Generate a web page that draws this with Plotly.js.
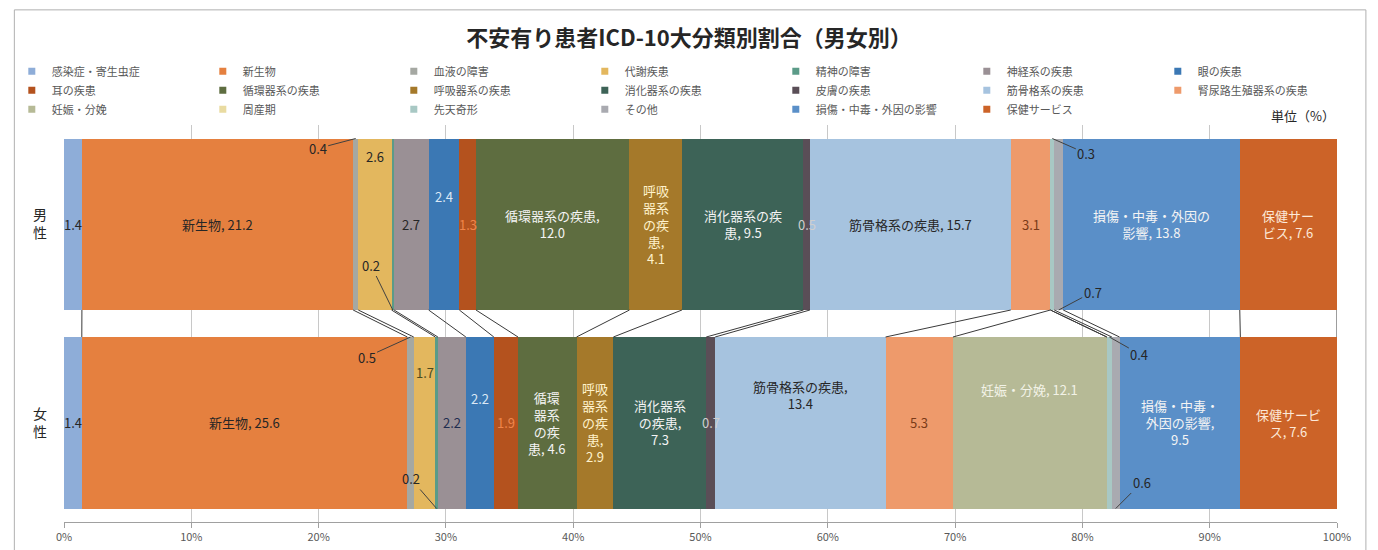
<!DOCTYPE html>
<html>
<head>
<meta charset="utf-8">
<script src="https://cdn.plot.ly/plotly-3.0.1.min.js"></script>
<style>html,body{margin:0;padding:0;background:#fff;}#chart{width:1378px;height:550px;}</style>
</head>
<body>
<div id="chart"></div>
<script>
// ---------- data ----------
const categories = ['感染症・寄生虫症','新生物','血液の障害','代謝疾患','精神の障害','神経系の疾患','眼の疾患',
  '耳の疾患','循環器系の疾患','呼吸器系の疾患','消化器系の疾患','皮膚の疾患','筋骨格系の疾患','腎尿路生殖器系の疾患',
  '妊娠・分娩','周産期','先天奇形','その他','損傷・中毒・外因の影響','保健サービス'];
const genders = ['男性','女性'];
const maleValues   = [1.4,21.2,0.4,2.6,0.2,2.7,2.4,1.3,12.0,4.1,9.5,0.5,15.7,3.1,0,0,0.3,0.7,13.8,7.6];
const femaleValues = [1.4,25.6,0.5,1.7,0.2,2.2,2.2,1.9,4.6,2.9,7.3,0.7,13.4,5.3,12.1,0,0.4,0.6,9.5,7.6];
const xTickValues = [0,10,20,30,40,50,60,70,80,90,100];
const xTickLabels = ['0%','10%','20%','30%','40%','50%','60%','70%','80%','90%','100%'];
const maleLabels = ['1.4','新生物, 21.2','0.4','2.6','0.2','2.7','2.4','1.3','循環器系の疾患,<br>12.0',
  '呼吸<br>器系<br>の疾<br>患,<br>4.1','消化器系の疾<br>患, 9.5','0.5','筋骨格系の疾患, 15.7','3.1','','','0.3','0.7',
  '損傷・中毒・外因の<br>影響, 13.8','保健サー<br>ビス, 7.6'];
const femaleLabels = ['1.4','新生物, 25.6','0.5','1.7','0.2','2.2','2.2','1.9','循環<br>器系<br>の疾<br>患, 4.6',
  '呼吸<br>器系<br>の疾<br>患,<br>2.9','消化器系<br>の疾患,<br>7.3','0.7','筋骨格系の疾患,<br>13.4','5.3','妊娠・分娩, 12.1','','0.4','0.6',
  '損傷・中毒・<br>外因の影響,<br>9.5','保健サービ<br>ス, 7.6'];

// ---------- styles ----------
const colors = ['#8eadd8','#e5803f','#a5a8a2','#e3b75e','#5b9b88','#9a9095','#3b78b4',
  '#b4521e','#5e6d40','#a5792a','#3d6357','#5a4e57','#a6c3df','#ee9a6b',
  '#b6ba96','#e9dba1','#a8c8c4','#a9aab0','#5a8fc8','#cc6328'];
const DARK = '#262626', WHITE = '#f4f4f4', PALEY = '#fff2cc';
const maleLabelStyle = [
  {c:DARK},{c:DARK},{c:DARK,edge:'top',ax:-38,ay:10},{c:DARK,dy:68},{c:DARK,edge:'bottom',ax:-22,ay:-45},
  {c:DARK},{c:'#dce8f6',dy:28},{c:'#f0854a'},{c:WHITE},{c:PALEY},{c:WHITE},{c:'#cfcfcf'},{c:DARK},{c:'#7a3a18'},
  {},{},{c:DARK,edge:'top',ax:34,ay:15},{c:DARK,edge:'bottom',ax:34,ay:-18},{c:WHITE},{c:'#fde9d9'}];
const femaleLabelStyle = [
  {c:DARK},{c:DARK},{c:DARK,edge:'top',ax:-44,ay:20},{c:'#4a4a20',dy:50},{c:DARK,edge:'bottom',ax:-26,ay:-30},
  {c:'#1f2d4f'},{c:'#dce8f6',dy:24},{c:'#f0854a'},{c:WHITE},{c:PALEY},{c:WHITE},{c:'#cfcfcf'},{c:DARK,dy:28},{c:'#7a3a18'},
  {c:'#f2f2e6',dy:33},{},{c:DARK,edge:'top',ax:30,ay:17},{c:DARK,edge:'bottom',ax:26,ay:-26},{c:WHITE},{c:'#fde9d9'}];

const FONT = '"Noto Sans CJK JP", "Noto Sans", sans-serif';
const BARGAP = 0.136;
const HW = (1 - BARGAP) / 2;

function cumNorm(vals){
  const tot = vals.reduce((a,b)=>a+b,0);
  let c = 0;
  return vals.map(v => { const s = c; c += v; return [s/tot*100, c/tot*100]; });
}
const cums = [maleValues, femaleValues].map(cumNorm);

const traces = categories.map((name,i) => ({
  type:'bar', orientation:'h', name:name, showlegend:false,
  y:[0,1], x:[maleValues[i], femaleValues[i]],
  marker:{color:colors[i], line:{width:0}},
  hoverinfo:'skip'
}));

// series lines between the two bars
const lx = [], ly = [];
categories.forEach((_,i) => {
  lx.push(cums[0][i][1], cums[1][i][1], null);
  ly.push(0 + HW, 1 - HW, null);
});
traces.push({type:'scatter', mode:'lines', x:lx, y:ly, showlegend:false, hoverinfo:'skip',
  line:{color:'#3a3a3a', width:1}});

// legend entries (small square swatches like the original)
categories.forEach((name,i) => {
  traces.push({type:'scatter', mode:'markers', name:name, x:[null], y:[null], showlegend:true,
    hoverinfo:'skip', marker:{symbol:'square', size:7, color:colors[i]}});
});

const annotations = [];
[maleLabels, femaleLabels].forEach((labels, gi) => {
  const styles = gi === 0 ? maleLabelStyle : femaleLabelStyle;
  labels.forEach((t,i) => {
    if(!t) return;
    const s = styles[i];
    const mid = (cums[gi][i][0] + cums[gi][i][1]) / 2;
    if(s.edge){
      annotations.push({x:mid, y: gi + (s.edge === 'top' ? -HW : HW), xref:'x', yref:'y', text:t,
        showarrow:true, arrowhead:0, arrowwidth:1, arrowcolor:'#404040', ax:s.ax, ay:s.ay, standoff:0,
        font:{size:13, color:s.c, family:FONT}});
    } else {
      annotations.push({x:mid, y:gi, xref:'x', yref:'y', text:t, showarrow:false,
        yshift:s.dy||0, font:{size:13, color:s.c, family:FONT}});
    }
  });
});
annotations.push({x:1, y:1.005, xref:'paper', yref:'paper', xanchor:'right', yanchor:'bottom', yshift:-4,
  text:'単位（%）', showarrow:false, font:{size:13, color:DARK, family:FONT}});

const layout = {
  width:1378, height:550,
  margin:{l:62, r:41, t:125, b:28},
  paper_bgcolor:'#fff', plot_bgcolor:'#fff',
  font:{family:FONT},
  title:{text:'<b>不安有り患者ICD-10大分類別割合（男女別）</b>', x:0.5, xanchor:'center',
    y:0.93, yref:'container', yanchor:'middle', font:{size:22, color:DARK, family:FONT}},
  barmode:'stack', barnorm:'percent', bargap:BARGAP,
  hovermode:false,
  xaxis:{range:[0,100], tickvals:xTickValues, ticktext:xTickLabels, showgrid:true, gridcolor:'#c8c8c8',
    gridwidth:1, zeroline:false, showline:true, linecolor:'#a0a0a0', ticks:'outside', ticklen:5, tickcolor:'#a0a0a0',
    tickfont:{size:11, color:'#595959', family:FONT}, fixedrange:true},
  yaxis:{range:[1.5,-0.5], tickvals:[0,1], ticktext:genders.map(g => g.split('').join('<br>')),
    showgrid:false, zeroline:false, showline:false, ticks:'', ticklen:0, ticklabelstandoff:16,
    tickfont:{size:14, color:DARK, family:FONT}, fixedrange:true},
  showlegend:true,
  legend:{orientation:'h', x:-0.041, y:1.172, xanchor:'left', yanchor:'top', traceorder:'normal',
    entrywidth:146, entrywidthmode:'pixels', font:{size:11, color:'#595959', family:FONT},
    bgcolor:'rgba(0,0,0,0)', itemclick:false, itemdoubleclick:false},
  annotations:annotations,
  shapes:[{type:'rect', xref:'paper', yref:'paper', x0:-0.039, x1:1.0227, y0:-0.08, y1:1.29,
    line:{color:'#b0b0b0', width:1}, fillcolor:'rgba(0,0,0,0)', layer:'below'}]
};

Plotly.newPlot('chart', traces, layout, {staticPlot:true, displayModeBar:false});
</script>
</body>
</html>
